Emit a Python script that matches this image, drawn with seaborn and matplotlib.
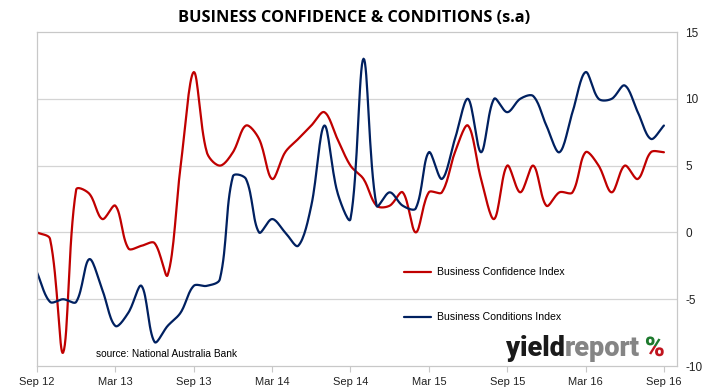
import numpy as np
import pandas as pd
import seaborn as sns
import matplotlib.pyplot as plt
from matplotlib.patches import Rectangle, PathPatch
from matplotlib.textpath import TextPath
from matplotlib.font_manager import FontProperties
from matplotlib.transforms import Affine2D, IdentityTransform

# monthly, Sep 2012 .. Sep 2016
months = pd.date_range("2012-09-01", "2016-09-01", freq="MS")
confidence = [0, -0.5, -9, 3.2, 2.9, 1, 2, -1.2, -1, -0.8, -3.2, 5, 12, 6, 5, 6, 8,
              7, 4, 6, 7, 8, 9, 7, 5, 4, 2, 2, 3, 0, 3, 3, 6, 8, 4, 1, 5, 3, 5,
              2, 3, 3, 6, 5, 3, 5, 4, 6, 6]
conditions = [-3, -5.2, -5, -5.2, -2, -4.3, -7, -6, -4, -8.2, -7, -6, -4, -4, -3.5, 4.2, 4,
              0, 1, 0, -1, 2, 8, 3, 1, 13, 2, 3, 2, 1.8, 6, 4, 7, 10, 6, 10, 9, 10, 10.2,
              8, 6, 9, 12, 10, 10, 11, 9, 7, 8]
tick_labels = ["Sep 12", "Mar 13", "Sep 13", "Mar 14", "Sep 14",
               "Mar 15", "Sep 15", "Mar 16", "Sep 16"]
series_names = ["Business Confidence Index", "Business Conditions Index"]
colors = ["#C00000", "#002060"]


def smooth(y, n=16):
    # excel-style smoothed line: bezier, tangents scaled by segment lengths
    x = np.arange(len(y), dtype=float)
    p = np.column_stack([x, np.asarray(y, float)])
    p = np.vstack([p[0], p, p[-1]])
    t = np.linspace(0, 1, n, endpoint=False)[:, None]
    out = []
    for i in range(1, len(p) - 2):
        p0, p1, p2, p3 = p[i - 1], p[i], p[i + 1], p[i + 2]
        l01 = np.hypot(*(p1 - p0))
        l12 = np.hypot(*(p2 - p1))
        l23 = np.hypot(*(p3 - p2))
        a = l12 / (l01 + l12) / 1.5 if l01 + l12 > 0 else 0
        b = l12 / (l12 + l23) / 1.5 if l12 + l23 > 0 else 0
        c1 = p1 + (p2 - p0) * a / 2
        c2 = p2 - (p3 - p1) * b / 2
        out.append((1 - t) ** 3 * p1 + 3 * (1 - t) ** 2 * t * c1
                   + 3 * (1 - t) * t ** 2 * c2 + t ** 3 * p2)
    out.append(p[-2][None, :])
    return np.vstack(out)


frames = []
for name, vals in zip(series_names, [confidence, conditions]):
    s = smooth(vals)
    frames.append(pd.DataFrame({"x": s[:, 0], "y": s[:, 1], "series": name}))
df = pd.concat(frames, ignore_index=True)

sns.set_theme(style="white")
plt.rcParams["font.family"] = ["Liberation Sans", "DejaVu Sans"]
plt.rcParams["axes.unicode_minus"] = False

fig = plt.figure(figsize=(7.27, 3.91), dpi=100)
ax = fig.add_axes([0.0509, 0.0639, 0.8803, 0.8542])

sns.lineplot(data=df, x="x", y="y", hue="series", palette=colors, sort=False,
             estimator=None, linewidth=1.6, ax=ax, legend=False)

ax.set_xlim(0, 49)
ax.set_ylim(-10, 15)
ax.set_yticks([-10, -5, 0, 5, 10, 15])
ax.yaxis.tick_right()
ax.tick_params(axis="y", length=0, pad=6, labelsize=8.5, colors="#222222")
ax.set_xticks(range(0, 49, 6))
ax.set_xticklabels(tick_labels)
ax.tick_params(axis="x", bottom=True, length=4, width=0.8, color="#c8c8c8",
               labelsize=8, pad=4, labelcolor="#222222")
ax.set_xlabel("")
ax.set_ylabel("")
for v in [-5, 0, 5, 10]:
    ax.axhline(v, color="#d4d4d4", linewidth=0.9, zorder=0)
for sp in ax.spines.values():
    sp.set_visible(True)
    sp.set_color("#c8c8c8")
    sp.set_linewidth(0.9)

fig.text(0.487, 0.955, "BUSINESS CONFIDENCE & CONDITIONS (s.a)", ha="center", va="center",
         fontsize=11.8, fontweight="bold", family=["Open Sans", "DejaVu Sans"], color="black")

# legend
for i, (name, col) in enumerate(zip(series_names, colors)):
    ly = -3.0 - i * 3.3
    ax.plot([28.1, 30.2], [ly, ly], color=col, linewidth=1.6)
    ax.text(30.6, ly, name, va="center", ha="left", fontsize=7.6, color="black")

ax.text(4.5, -9.1, "source: National Australia Bank", fontsize=7.3, color="black",
        va="center", ha="left")

# yieldreport logo
logo_font = ["Roboto", "DejaVu Sans"]
fs = 19.5
fig.canvas.draw()
r = fig.canvas.get_renderer()
base = -9.25
t1 = ax.text(35.9, base, "yield", fontsize=fs, fontweight="heavy", color="#1a1a1a",
             family=logo_font, va="baseline", ha="left")
bb = t1.get_window_extent(r)
x2 = ax.transData.inverted().transform((bb.x1, bb.y0))[0]
t2 = ax.text(x2, base, "report", fontsize=fs, fontweight="heavy", color="#858585",
             family=logo_font, va="baseline", ha="left")
bb2 = t2.get_window_extent(r)

# two-colour percent sign: green upper ring, red lower ring
fp = FontProperties(family=logo_font, weight="heavy")
tp = TextPath((0, 0), "%", size=fs, prop=fp)
ext = tp.get_extents()
px_per_pt = fig.dpi / 72.0
x0 = bb2.x1 + 5
y0 = ax.transData.transform((0, base))[1]
tr = Affine2D().scale(px_per_pt).translate(x0, y0)
mid = y0 + (ext.y0 + ext.y1) / 2 * px_per_pt
for col, clip in [("#1e7a2e", (mid, 100)), ("#c0141e", (mid - 100, 100))]:
    pp = PathPatch(tp, transform=tr, facecolor=col, edgecolor="none", clip_on=True)
    fig.add_artist(pp)
    pp.set_clip_path(Rectangle((x0 - 20, clip[0]), 100, clip[1], transform=IdentityTransform()))

fig.savefig("out.png", dpi=100)
